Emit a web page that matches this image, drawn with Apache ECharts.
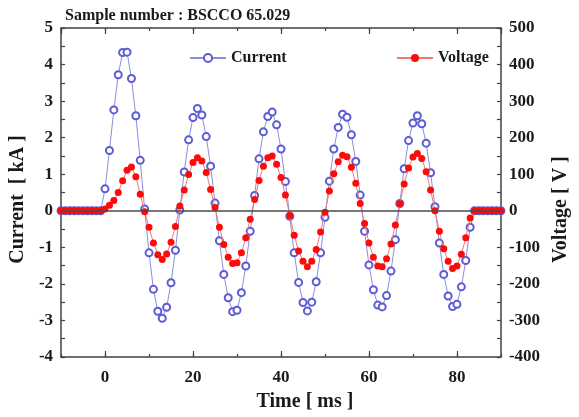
<!DOCTYPE html>
<html>
<head>
<meta charset="utf-8">
<script src="https://cdn.jsdelivr.net/npm/echarts@6/dist/echarts.min.js"></script>
<style>
  html, body { margin: 0; padding: 0; background: #ffffff; }
  #chart { width: 579px; height: 417px; }
</style>
</head>
<body>
<div id="chart"></div>
<script>
// Sample times [ms]
const times = [-10,-9,-8,-7,-6,-5,-4,-3,-2,-1,
  0,1,2,3,4,5,6,7,8,9,
  10,11,12,13,14,15,16,17,18,19,
  20,21,22,23,24,25,26,27,28,29,
  30,31,32,33,34,35,36,37,38,39,
  40,41,42,43,44,45,46,47,48,49,
  50,51,52,53,54,55,56,57,58,59,
  60,61,62,63,64,65,66,67,68,69,
  70,71,72,73,74,75,76,77,78,79,
  80,81,82,83,84,85,86,87,88,89,90];

// Current [kA]
const currentKA = [0,0,0,0,0,0,0,0,0,0,
  0.60,1.65,2.76,3.72,4.33,4.34,3.62,2.60,1.38,0.05,
  -1.15,-2.15,-2.75,-2.94,-2.64,-1.97,-1.08,0.02,1.06,1.94,
  2.55,2.80,2.62,2.03,1.22,0.21,-0.82,-1.74,-2.38,-2.76,
  -2.72,-2.24,-1.51,-0.56,0.42,1.42,2.16,2.58,2.70,2.35,
  1.69,0.80,-0.15,-1.15,-1.96,-2.51,-2.74,-2.50,-1.94,-1.15,
  -0.18,0.81,1.69,2.28,2.64,2.56,2.08,1.35,0.43,-0.56,
  -1.48,-2.16,-2.58,-2.63,-2.32,-1.65,-0.79,0.20,1.15,1.92,
  2.40,2.60,2.38,1.85,1.04,0.11,-0.88,-1.74,-2.33,-2.62,
  -2.56,-2.08,-1.36,-0.45,0,0,0,0,0,0,0];

// Voltage [V]
const voltageV = [0,0,0,0,0,0,0,0,0,0,
  5,15,28,50,82,111,120,93,45,-3,
  -45,-88,-120,-133,-118,-86,-43,13,57,99,
  132,145,136,105,58,9,-45,-92,-127,-144,
  -142,-115,-74,-23,31,83,122,145,150,127,
  91,43,-13,-67,-110,-138,-153,-138,-106,-58,
  -4,54,101,134,152,148,119,75,20,-35,
  -88,-127,-151,-153,-131,-91,-39,19,73,117,
  147,157,143,107,57,0,-56,-104,-138,-158,
  -151,-119,-74,-20,0,0,0,0,0,0,0];

const titleText = 'Sample number : BSCCO 65.029';
const xName = 'Time [ ms ]';
const yLeftName = 'Current  [ kA ]';
const yRightName = 'Voltage [ V ]';
const seriesNames = ['Current', 'Voltage'];

const FONT = 'Liberation Serif';
const AX = '#404040';
const TXT = '#1a1a1a';

const chart = echarts.init(document.getElementById('chart'), null, { renderer: 'canvas' });

const labelStyle = { fontFamily: FONT, fontWeight: 'bold', fontSize: 17, color: TXT };
const nameStyle = { fontFamily: FONT, fontWeight: 'bold', fontSize: 20, color: TXT };

function xAxisBase(pos, withInterval) {
  const a = {
    type: 'value', min: -10, max: 90, position: pos,
    splitLine: { show: false },
    axisLabel: { show: false },
    axisLine: { show: !withInterval, onZero: false, lineStyle: { color: AX, width: 1.5 } },
    axisTick: { show: true, inside: true, length: withInterval ? 3 : 6, lineStyle: { color: AX, width: 1.2 } }
  };
  if (withInterval) a.interval = 10;
  return a;
}

const xMain = xAxisBase('bottom', false);
xMain.axisLabel = Object.assign({ show: true, showMinLabel: false, showMaxLabel: false, margin: 12 }, labelStyle);
xMain.name = xName;
xMain.nameLocation = 'middle';
xMain.nameGap = 35;
xMain.nameTextStyle = Object.assign({ padding: [0, 0, 0, 48] }, nameStyle);

function yAxisBase(pos, min, max, interval, name, gap, pad) {
  return {
    type: 'value', min: min, max: max, interval: interval, position: pos,
    splitLine: { show: false },
    axisLine: { show: true, onZero: false, lineStyle: { color: AX, width: 1.5 } },
    axisTick: { show: true, inside: true, length: 4, lineStyle: { color: AX, width: 1.2 } },
    minorTick: { show: true, splitNumber: 2, length: 4, lineStyle: { color: AX, width: 1.2 } },
    axisLabel: Object.assign({ margin: 8 }, labelStyle),
    name: name, nameLocation: 'middle', nameGap: gap, nameRotate: 90,
    nameTextStyle: Object.assign({ padding: pad }, nameStyle)
  };
}

const option = {
  animation: false,
  backgroundColor: '#ffffff',
  title: {
    text: titleText, left: 60, top: 3,
    textStyle: { fontFamily: FONT, fontWeight: 'bold', fontSize: 16, color: TXT }
  },
  legend: [
    {
      data: [seriesNames[0]], left: 184, top: 45, itemWidth: 36, itemHeight: 10, itemGap: 6,
      textStyle: { fontFamily: FONT, fontWeight: 'bold', fontSize: 16, color: TXT }
    },
    {
      data: [seriesNames[1]], left: 391, top: 45, itemWidth: 36, itemHeight: 10, itemGap: 6,
      textStyle: { fontFamily: FONT, fontWeight: 'bold', fontSize: 16, color: TXT }
    }
  ],
  grid: { left: 59, right: 75, top: 28, bottom: 57, containLabel: false },
  xAxis: [xMain, xAxisBase('bottom', true), xAxisBase('top', false), xAxisBase('top', true)],
  yAxis: [
    yAxisBase('left', -4, 5, 1, yLeftName, 28, [0, 14, 0, 0]),
    yAxisBase('right', -400, 500, 100, yRightName, 50, [0, 34, 0, 0])
  ],
  series: [
    {
      name: seriesNames[0], type: 'line', xAxisIndex: 0, yAxisIndex: 0,
      data: times.map((t, i) => [t, currentKA[i]]),
      symbol: 'emptyCircle', symbolSize: 7, showAllSymbol: true,
      lineStyle: { color: '#8c8ce0', width: 1 },
      itemStyle: { color: '#5c5cd6', borderColor: '#5c5cd6', borderWidth: 1 },
      markLine: {
        silent: true, symbol: ['none', 'none'], label: { show: false },
        lineStyle: { color: '#4a4a4a', width: 1.5, type: 'solid' },
        data: [{ yAxis: 0 }]
      },
      z: 2
    },
    {
      name: seriesNames[1], type: 'line', xAxisIndex: 0, yAxisIndex: 1,
      data: times.map((t, i) => [t, voltageV[i]]),
      symbol: 'circle', symbolSize: 7, showAllSymbol: true,
      lineStyle: { color: '#f07878', width: 1 },
      itemStyle: { color: '#ff0a0a' },
      z: 3
    }
  ]
};

chart.setOption(option);
</script>
</body>
</html>
